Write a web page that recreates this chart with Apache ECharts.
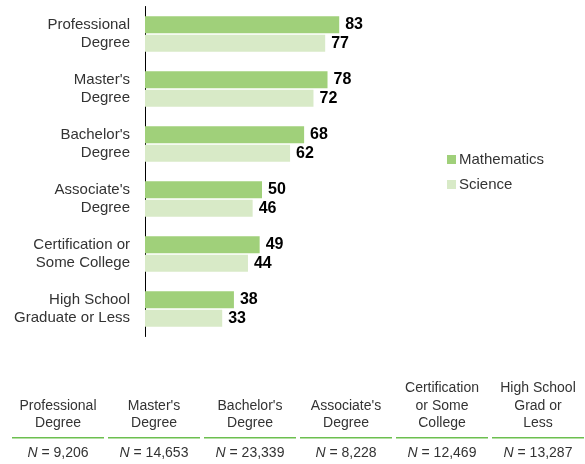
<!DOCTYPE html>
<html>
<head>
<meta charset="utf-8">
<script src="https://cdn.jsdelivr.net/npm/echarts@6/dist/echarts.min.js"></script>
<style>html,body{margin:0;padding:0;background:#fff}#c{width:585px;height:464px}</style>
</head>
<body>
<div id="c"></div>
<script>
const categories = ['Professional\nDegree', "Master's\nDegree", "Bachelor's\nDegree", "Associate's\nDegree", 'Certification or\nSome College', 'High School\nGraduate or Less'];
const mathematics = [83, 78, 68, 50, 49, 38];
const science = [77, 72, 62, 46, 44, 33];
const tableHeaders = ['Professional\nDegree', "Master's\nDegree", "Bachelor's\nDegree", "Associate's\nDegree", 'Certification\nor Some\nCollege', 'High School\nGrad or\nLess'];
const tableN = ['9,206', '14,653', '23,339', '8,228', '12,469', '13,287'];

const FONT = "'Liberation Sans', Arial, Helvetica, sans-serif";
const chart = echarts.init(document.getElementById('c'), null, {renderer: 'canvas'});

const graphics = [];
tableHeaders.forEach((h, i) => {
  const cx = 58 + 96 * i;
  graphics.push({
    type: 'text',
    style: {text: h, x: cx, y: 432, align: 'center', verticalAlign: 'bottom',
      fill: '#333', font: '14px ' + FONT, lineHeight: 17.5}
  });
  graphics.push({
    type: 'rect',
    shape: {x: cx - 46, y: 437, width: 92, height: 1.5},
    style: {fill: '#6cbf4f'}
  });
  graphics.push({
    type: 'text',
    style: {text: '{i|N} = ' + tableN[i], x: cx, y: 453, align: 'center', verticalAlign: 'middle',
      fill: '#333', font: '14px ' + FONT,
      rich: {i: {fontStyle: 'italic', fontSize: 14, fontFamily: FONT, fill: '#333'}}}
  });
});

chart.setOption({
  animation: false,
  textStyle: {fontFamily: FONT},
  legend: {
    orient: 'vertical', left: 442, top: 147,
    itemWidth: 9, itemHeight: 9, itemGap: 10, icon: 'rect',
    textStyle: {fontSize: 15, color: '#333', fontFamily: FONT, padding: [0, 0, 0, -2]},
    data: ['Mathematics', 'Science']
  },
  grid: {left: 145, top: 6.5, width: 234, height: 330, containLabel: false},
  xAxis: {type: 'value', min: 0, max: 100, show: false},
  yAxis: {
    type: 'category', inverse: true, data: categories,
    axisLine: {show: true, lineStyle: {color: '#000', width: 1}},
    axisTick: {show: false},
    axisLabel: {fontSize: 15, color: '#333', margin: 15, lineHeight: 18, fontFamily: FONT, align: 'right', padding: [6, 0, 0, 0]}
  },
  series: [
    {name: 'Mathematics', type: 'bar', data: mathematics, barWidth: 17, barGap: '10%',
      itemStyle: {color: '#a0d07a'},
      label: {show: true, position: 'right', distance: 6, color: '#000', fontWeight: 'bold', fontSize: 16, fontFamily: FONT}},
    {name: 'Science', type: 'bar', data: science, barWidth: 17, barGap: '10%',
      itemStyle: {color: '#d8eac7'},
      label: {show: true, position: 'right', distance: 6, color: '#000', fontWeight: 'bold', fontSize: 16, fontFamily: FONT}}
  ],
  graphic: graphics
});
</script>
</body>
</html>
